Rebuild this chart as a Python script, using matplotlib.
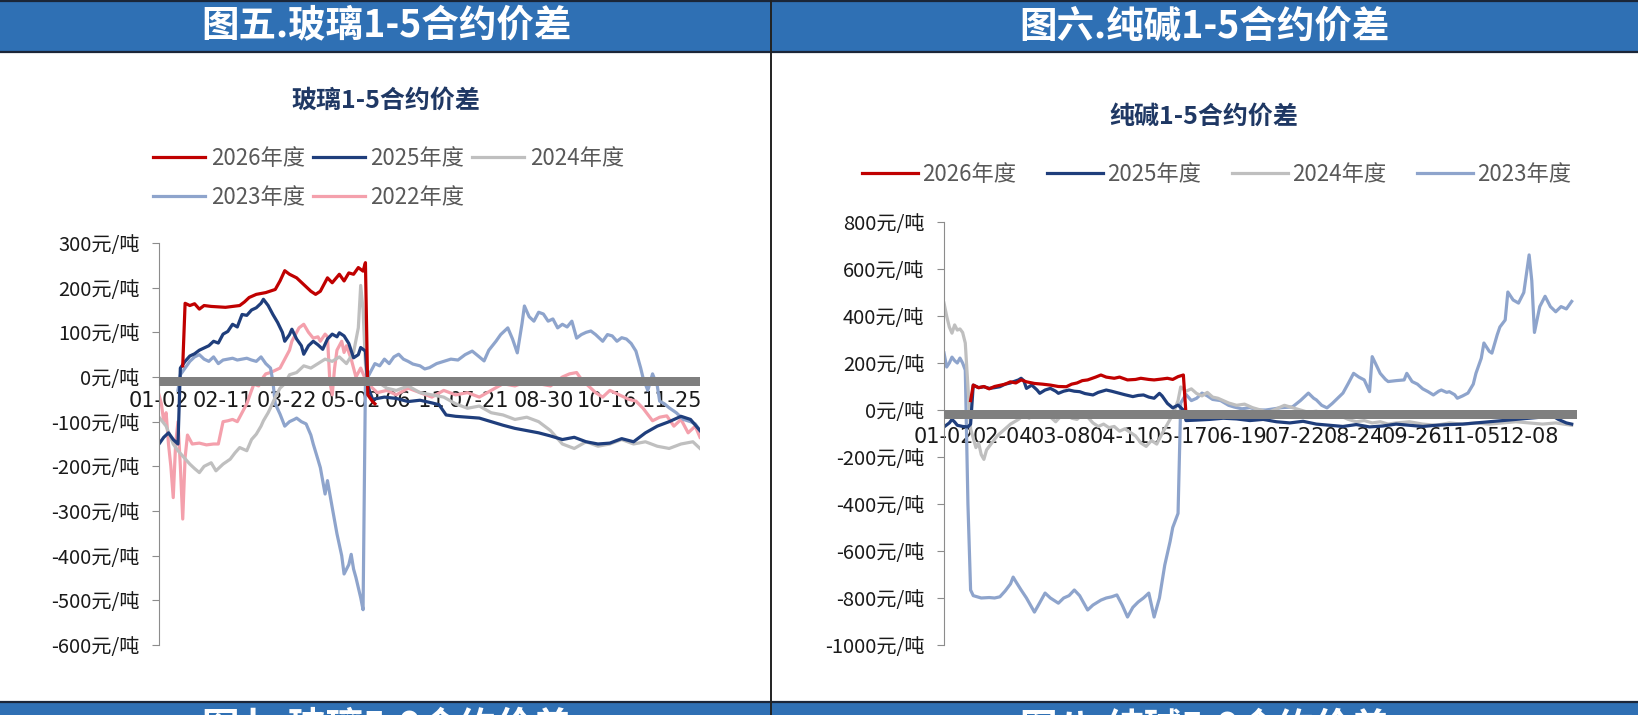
import matplotlib
matplotlib.use('Agg')
import matplotlib.pyplot as plt
from matplotlib.patches import Rectangle
from matplotlib.lines import Line2D

plt.rcParams['font.family'] = ['Noto Sans CJK SC', 'DejaVu Sans']
plt.rcParams['axes.unicode_minus'] = False

# ---------------- 图五 玻璃1-5合约价差 (x = trading-day index) ----------------
glass_dates = ['01-02', '02-11', '03-22', '05-02', '06-11', '07-21', '08-30', '10-16', '11-25']

g26_x = [10, 11, 13, 15, 17, 19, 22, 25, 28, 31, 34, 36, 38, 41, 45, 49, 51, 53, 55, 58,
         61, 64, 66, 68, 71, 73, 76, 78, 80, 82, 84, 86, 87, 88, 90, 91]
g26_y = [25, 165, 160, 164, 152, 160, 158, 157, 156, 158, 160, 168, 178, 185, 189, 196, 215, 238, 230, 222,
         207, 192, 185, 192, 222, 211, 230, 215, 233, 230, 245, 237, 256, -40, -55, -60]

g25_x = [0, 2, 4, 6, 8, 9, 11, 13, 15, 17, 19, 21, 23, 25, 27, 29, 31, 33, 35, 37, 39, 41, 43, 44,
         46, 48, 50, 52, 53, 55, 56, 58, 60, 61, 63, 65, 67, 69, 71, 73, 75, 76, 78, 80, 82, 84, 85, 87,
         88, 90, 95, 100, 105, 110, 115, 118, 121, 125, 130, 135, 140, 145, 150, 155, 160, 165, 170,
         175, 180, 185, 190, 195, 200, 205, 210, 215, 220, 224, 228]
g25_y = [-150, -135, -125, -140, -150, 20, 35, 47, 52, 60, 65, 70, 80, 76, 96, 102, 118, 112, 140, 138,
         150, 155, 165, 174, 160, 140, 122, 100, 80, 95, 107, 85, 70, 51, 70, 80, 72, 62, 85, 96, 90, 99,
         92, 75, 43, 50, 66, 58, -20, -50, -45, -48, -55, -52, -58, -62, -85, -88, -90, -92, -100, -108,
         -115, -120, -125, -132, -140, -135, -145, -150, -148, -138, -145, -125, -110, -100, -88, -95, -120]

g24_x = [0, 3, 6, 8, 10, 13, 15, 17, 19, 22, 24, 27, 30, 32, 34, 37, 39, 41, 43, 44, 46, 47, 49, 51,
         53, 55, 58, 61, 64, 67, 70, 73, 76, 79, 82, 84, 85, 86, 87, 88, 92, 96, 100, 105, 110, 115,
         120, 125, 130, 135, 140, 145, 150, 155, 160, 165, 170, 175, 180, 185, 190, 195, 200, 205,
         210, 215, 220, 225, 228]
g24_y = [-90, -110, -150, -165, -177, -195, -205, -214, -200, -192, -210, -195, -184, -170, -158, -165,
         -140, -128, -110, -98, -80, -69, -45, -25, -15, 5, 10, 25, 20, 30, 40, 35, 45, 30, 55, 110, 205,
         150, 30, -20, -10, -25, -30, -20, -35, -40, -45, -60, -70, -65, -80, -85, -95, -90, -100, -120,
         -150, -160, -145, -155, -150, -140, -150, -145, -155, -160, -150, -145, -160]

g23_x = [8, 9, 11, 13, 15, 17, 19, 21, 23, 25, 27, 29, 31, 33, 35, 37, 39, 41, 43, 45, 47, 48, 49, 51,
         53, 55, 57, 58, 60, 62, 64, 65, 67, 68, 70, 71, 73, 75, 77, 78, 80, 81, 82, 83, 85, 86, 87, 89,
         91, 93, 95, 97, 99, 101, 103, 105, 107, 110, 112, 114, 117, 120, 123, 126, 129, 132, 135, 137,
         139, 142, 144, 147, 149, 151, 153, 154, 156, 158, 160, 162, 164, 166, 168, 170, 172, 174, 176,
         178, 180, 182, 184, 187, 189, 191, 193, 195, 197, 199, 201, 203, 204, 206, 208, 210, 211, 213,
         215, 218, 221, 224, 226, 228]
g23_y = [-30, 5, 20, 35, 45, 50, 40, 35, 45, 30, 38, 40, 42, 38, 40, 42, 38, 35, 45, 30, 20, -10, -60,
         -83, -110, -100, -95, -92, -100, -105, -130, -150, -185, -203, -262, -232, -292, -351, -400,
         -441, -420, -397, -430, -449, -494, -521, -10, 10, 30, 25, 40, 30, 45, 51, 40, 35, 29, 25, 18,
         21, 30, 35, 40, 38, 50, 58, 45, 36, 60, 80, 95, 110, 85, 54, 120, 159, 135, 125, 145, 141, 125,
         130, 110, 118, 112, 125, 87, 95, 100, 103, 95, 80, 95, 92, 80, 88, 85, 75, 58, 20, -2, -30, 7,
         -20, -54, -60, -69, -80, -95, -100, -105, -120]

g22_x = [0, 1, 2, 3, 4, 5, 6, 7, 8, 9, 10, 11, 12, 14, 17, 20, 23, 25, 27, 29, 31, 33, 35, 37, 39, 40,
         42, 44, 45, 47, 49, 51, 53, 55, 56, 58, 59, 61, 63, 65, 67, 68, 70, 71, 72, 73, 74, 75, 77, 78,
         79, 81, 83, 85, 87, 89, 92, 96, 100, 105, 110, 115, 120, 125, 130, 135, 140, 145, 150, 155,
         160, 165, 170, 173, 176, 178, 181, 184, 187, 190, 194, 198, 201, 204, 208, 211, 214, 217, 220,
         223, 226, 228]
g22_y = [-40, -60, -100, -80, -150, -200, -270, -150, -100, -200, -318, -180, -130, -150, -148, -152,
         -150, -150, -100, -98, -95, -100, -80, -60, -30, -16, -20, 0, 7, 10, 15, 20, 40, 60, 80, 100, 110,
         118, 100, 87, 90, 80, 96, 90, -10, -40, 20, 60, 80, 55, 70, 40, 0, 20, -5, -20, -35, -30, -40,
         -25, -35, -45, -30, -40, -35, -45, -30, -15, -20, -10, -15, -20, 0, 7, 10, -5, -20, -35, -45,
         -30, -40, -50, -54, -70, -98, -90, -87, -110, -95, -125, -110, -135]

# ---------------- 图六 纯碱1-5合约价差 ----------------
soda_dates = ['01-02', '02-04', '03-08', '04-11', '05-17', '06-19', '07-22', '08-24', '09-26',
              '11-05', '12-08']

s26_x = [10, 11, 13, 15, 17, 19, 21, 23, 25, 27, 29, 31, 34, 37, 40, 43, 46, 48, 50, 52, 54, 57, 59,
         61, 64, 66, 69, 72, 74, 77, 79, 82, 84, 86, 88, 90, 91]
s26_y = [40, 106, 95, 100, 90, 100, 105, 110, 120, 115, 128, 120, 113, 110, 106, 100, 99, 110, 115,
         125, 128, 140, 149, 140, 135, 140, 128, 130, 135, 130, 128, 132, 135, 130, 142, 149, -20]

s25_x = [0, 2, 3, 4, 5, 7, 9, 10, 11, 13, 15, 17, 19, 21, 23, 25, 26, 28, 29, 30, 31, 33, 35, 36, 38,
         40, 42, 43, 45, 47, 49, 51, 53, 56, 58, 61, 63, 66, 68, 71, 73, 75, 77, 79, 81, 82, 84, 86, 88,
         90, 91, 95, 100, 105, 110, 115, 120, 125, 130, 135, 140, 145, 150, 155, 160, 165, 170, 175,
         180, 185, 190, 195, 200, 205, 210, 215, 220, 225, 228, 231, 234, 236]
s25_y = [-72, -55, -40, -51, -65, -70, -72, -60, 106, 95, 99, 92, 95, 99, 110, 115, 120, 128, 135, 125,
         92, 106, 85, 71, 85, 92, 80, 71, 80, 85, 80, 78, 70, 64, 75, 85, 80, 71, 65, 57, 62, 64, 55, 50,
         71, 60, 28, 9, 21, 0, -45, -43, -40, -35, -38, -45, -40, -50, -55, -48, -60, -65, -70, -62, -72,
         -68, -60, -65, -70, -65, -62, -60, -55, -50, -45, -40, -35, -30, -20, -40, -55, -60]

s24_x = [0, 1, 2, 3, 4, 5, 6, 7, 8, 9, 10, 11, 12, 13, 14, 15, 16, 18, 20, 22, 25, 28, 30, 32, 34, 36,
         38, 40, 42, 44, 46, 48, 50, 52, 54, 56, 58, 60, 62, 64, 66, 68, 70, 72, 74, 76, 78, 80, 82, 84,
         86, 88, 89, 91, 93, 95, 97, 99, 101, 103, 105, 107, 110, 113, 116, 119, 122, 125, 128, 131,
         134, 137, 140, 143, 146, 149, 152, 155, 158, 161, 164, 167, 170, 175, 180, 185, 190, 195, 200,
         205, 210, 215, 220, 225, 230, 236]
s24_y = [455, 400, 353, 327, 362, 340, 345, 330, 285, 100, -80, -120, -160, -140, -190, -210, -170,
         -140, -110, -90, -60, -40, -20, -35, -15, -30, -10, -30, -50, -25, -10, -35, -40, -20, -30, -55,
         -70, -60, -75, -70, -90, -80, -95, -110, -140, -155, -130, -145, -100, -60, -20, 40, 98, 80, 90,
         70, 60, 75, 55, 50, 40, 30, 20, 25, 10, 0, -10, 5, 20, 10, 0, -10, -5, -20, -30, -25, -40, -50,
         -45, -55, -50, -60, -55, -50, -60, -65, -55, -60, -55, -60, -55, -50, -55, -60, -55, -65]

s23_x = [0, 1, 2, 3, 4, 5, 6, 7, 8, 9, 10, 11, 14, 17, 19, 21, 23, 25, 26, 27, 29, 31, 34, 36, 38, 40,
         43, 45, 47, 49, 51, 54, 56, 59, 61, 63, 65, 67, 69, 71, 73, 75, 77, 79, 81, 83, 85, 86, 88, 89,
         91, 93, 95, 97, 99, 101, 104, 107, 109, 112, 115, 118, 121, 124, 127, 131, 134, 137, 139, 140,
         142, 144, 146, 148, 150, 152, 154, 156, 158, 160, 161, 163, 164, 166, 167, 170, 173, 174, 176,
         178, 180, 182, 184, 186, 187, 189, 190, 192, 193, 195, 197, 199, 200, 202, 203, 205, 206, 208,
         209, 211, 212, 214, 216, 218, 220, 221, 222, 224, 226, 228, 230, 232, 234, 236]
s23_y = [243, 183, 200, 225, 210, 200, 221, 200, 170, -400, -766, -790, -800, -798, -800, -795, -770,
         -740, -711, -730, -766, -800, -860, -820, -779, -800, -822, -800, -790, -766, -790, -851, -830,
         -809, -800, -795, -787, -830, -881, -840, -817, -800, -779, -881, -800, -660, -560, -500, -440,
         30, 66, 40, 50, 72, 60, 45, 40, 20, 13, 5, 10, 0, 0, 5, 10, 13, 40, 72, 50, 43, 20, 9, 28, 50,
         72, 113, 156, 140, 128, 78, 227, 180, 156, 130, 121, 125, 128, 156, 121, 110, 90, 78, 64, 80,
         85, 75, 78, 65, 50, 60, 72, 110, 156, 220, 285, 250, 242, 320, 353, 383, 502, 468, 455, 500, 660,
         550, 330, 440, 484, 440, 418, 440, 430, 462]

C26, C25, C24, C23, C22 = '#C00000', '#1F3E7C', '#BFBFBF', '#8EA4CC', '#F4A0AC'
LW = 2.3

glass_series = [('2022年度', g22_x, g22_y, C22), ('2023年度', g23_x, g23_y, C23),
                ('2024年度', g24_x, g24_y, C24), ('2025年度', g25_x, g25_y, C25),
                ('2026年度', g26_x, g26_y, C26)]
soda_series = [('2023年度', s23_x, s23_y, C23), ('2024年度', s24_x, s24_y, C24),
               ('2025年度', s25_x, s25_y, C25), ('2026年度', s26_x, s26_y, C26)]

W, H = 1638, 715
fig = plt.figure(figsize=(W / 100, H / 100), dpi=100)


def fx(px):
    return px / W


def fy(py):
    return 1 - py / H


# header bars and frame lines
blue = '#2F70B4'
fig.add_artist(Rectangle((0, fy(52)), 1, 52 / H, transform=fig.transFigure, color=blue, lw=0))
fig.add_artist(Rectangle((0, 0), 1, 13 / H, transform=fig.transFigure, color=blue, lw=0))
for yy in [fy(1), fy(52), fy(702)]:
    fig.add_artist(Line2D([0, 1], [yy, yy], transform=fig.transFigure, color='#1B2638', lw=1.6))
fig.add_artist(Line2D([fx(771), fx(771)], [0, 1], transform=fig.transFigure, color='#222222', lw=1.4))

fig.text(fx(386), fy(26), '图五.玻璃1-5合约价差', color='white', fontsize=27, fontweight='bold',
         ha='center', va='center')
fig.text(fx(1204), fy(26), '图六.纯碱1-5合约价差', color='white', fontsize=27, fontweight='bold',
         ha='center', va='center')
# next panels' headers, only their top shows at the bottom edge
fig.text(fx(386), fy(728), '图七.玻璃5-9合约价差', color='white', fontsize=27, fontweight='bold',
         ha='center', va='center')
fig.text(fx(1204), fy(728), '图八.纯碱5-9合约价差', color='white', fontsize=27, fontweight='bold',
         ha='center', va='center')

fig.text(fx(386), fy(101), '玻璃1-5合约价差', color='#1F3864', fontsize=18, fontweight='bold',
         ha='center', va='center')
fig.text(fx(1204), fy(117), '纯碱1-5合约价差', color='#1F3864', fontsize=18, fontweight='bold',
         ha='center', va='center')


def draw_panel(ax, series, dates, step, xmax, ylo, yhi, ystep, band, pad):
    # move the x axis to y=0 first: set_position resets tick formatting
    ax.spines['bottom'].set_position(('data', 0))
    ax.spines['bottom'].set_visible(False)
    for s in ['top', 'right']:
        ax.spines[s].set_visible(False)
    ax.spines['left'].set_color('#8C8C8C')
    for name, xs, ys, col in series:
        ax.plot(xs, ys, color=col, lw=LW, label=name, zorder=2)
    ax.axhspan(-band, 0, color='#7F7F7F', lw=0, zorder=4)
    ax.set_xlim(0, xmax)
    ax.set_ylim(ylo, yhi)
    yt = list(range(ylo, yhi + 1, ystep))
    ax.set_yticks(yt)
    ax.set_yticklabels([f'{v}元/吨' for v in yt], fontsize=14.5, color='#1A1A1A')
    ax.set_xticks([i * step for i in range(len(dates))])
    ax.set_xticklabels(dates, fontsize=15, family='DejaVu Sans', color='#1A1A1A')
    ax.tick_params(axis='x', length=0, pad=pad)
    ax.tick_params(axis='y', direction='out', length=5, color='#8C8C8C', pad=9)
    ax.set_facecolor('none')


ax1 = fig.add_axes([fx(159), fy(645), fx(700 - 159), (645 - 243) / H])
draw_panel(ax1, glass_series, glass_dates, 27, 228, -600, 300, 100, 20, 10)

ax2 = fig.add_axes([fx(944), fy(645), fx(1577 - 944), (645 - 222) / H])
draw_panel(ax2, soda_series, soda_dates, 22, 238, -1000, 800, 200, 38, 12.5)

# legends
h1 = {l.get_label(): l for l in ax1.get_lines()}
order1 = ['2026年度', '2023年度', '2025年度', '2022年度', '2024年度']
fig.legend([h1[k] for k in order1], order1, loc='upper left', bbox_to_anchor=(fx(153), fy(147)),
           ncol=3, frameon=False, fontsize=16, labelcolor='#595959', handlelength=2.35,
           handletextpad=0.25, columnspacing=0.35, labelspacing=0.7, borderpad=0, borderaxespad=0)

h2 = {l.get_label(): l for l in ax2.get_lines()}
order2 = ['2026年度', '2025年度', '2024年度', '2023年度']
fig.legend([h2[k] for k in order2], order2, loc='upper left', bbox_to_anchor=(fx(862), fy(163)),
           ncol=4, frameon=False, fontsize=16, labelcolor='#595959', handlelength=2.5,
           handletextpad=0.2, columnspacing=1.4, borderpad=0, borderaxespad=0)

fig.savefig('out.png', dpi=100)
